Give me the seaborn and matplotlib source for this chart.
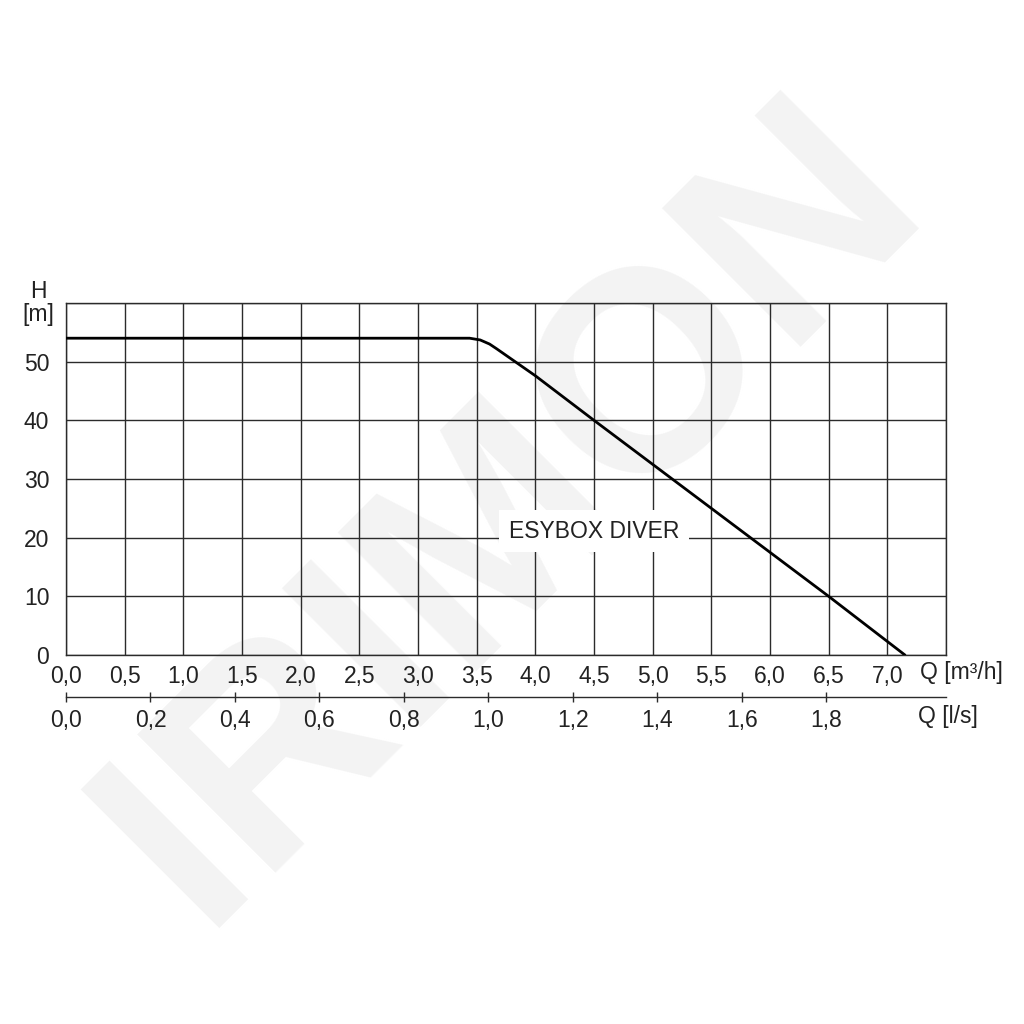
import matplotlib

matplotlib.use("Agg")
import matplotlib.pyplot as plt
import numpy as np
import pandas as pd
import seaborn as sns

# Pump curve (Q in m3/h, H in m)
flow_m3h = [0.0, 3.44, 3.53, 3.61, 3.67, 4.0, 4.5, 6.5, 7.15]
head_m = [54.0, 54.0, 53.7, 53.0, 52.2, 47.6, 40.0, 10.0, 0.0]

q_ticks_m3h = [0.0, 0.5, 1.0, 1.5, 2.0, 2.5, 3.0, 3.5, 4.0, 4.5, 5.0, 5.5, 6.0, 6.5, 7.0]
q_ticks_ls = [0.0, 0.2, 0.4, 0.6, 0.8, 1.0, 1.2, 1.4, 1.6, 1.8]
h_ticks = [0, 10, 20, 30, 40, 50]

curve_name = "ESYBOX DIVER"
watermark = "IRIMON"


def comma(v):
    return f"{v:.1f}".replace(".", ",")


def main():
    sns.set_theme(style="white")
    plt.rcParams["font.family"] = ["Liberation Sans", "DejaVu Sans"]
    fs = 16.5
    grid_col = "#2b2b2b"
    txt_col = "#222222"

    fig = plt.figure(figsize=(10.24, 10.24), dpi=100)
    fig.patch.set_facecolor("white")

    # Watermark behind everything
    fig.text(0.5, 0.5, watermark, fontsize=205, fontweight="bold", color="#f3f3f3",
             rotation=45, ha="center", va="center", zorder=-5)

    ax = fig.add_axes([66 / 1024, 1 - 655 / 1024, 880 / 1024, 352 / 1024])
    ax.set_zorder(2)
    ax.set_facecolor("none")

    df = pd.DataFrame({"Q": flow_m3h, "H": head_m})
    sns.lineplot(data=df, x="Q", y="H", sort=False, color="black", linewidth=2.0, ax=ax,
                 zorder=3)

    ax.set_xlim(0, 7.5)
    ax.set_ylim(0, 60)
    ax.set_xticks(q_ticks_m3h + [7.5])
    ax.set_xticklabels([comma(v) for v in q_ticks_m3h] + [""])
    ax.set_yticks(h_ticks + [60])
    ax.set_yticklabels([str(v) for v in h_ticks] + [""])
    ax.tick_params(axis="x", length=0, pad=7, labelsize=fs, colors=txt_col)
    ax.tick_params(axis="y", length=0, pad=12, labelsize=fs, colors=txt_col)
    ax.grid(True, color=grid_col, linewidth=1.0)
    for s in ax.spines.values():
        s.set_visible(True)
        s.set_color(grid_col)
        s.set_linewidth(1.0)
    ax.set_xlabel("")
    ax.set_ylabel("")

    ax.text(4.5, 21.1, curve_name, fontsize=fs, color=txt_col, ha="center", va="center",
            bbox=dict(facecolor="white", edgecolor="none", pad=7), zorder=4)

    # Secondary flow scale in l/s
    ax2 = fig.add_axes([66 / 1024, 1 - 697 / 1024, 880 / 1024, 0.001])
    ax2.set_zorder(2)
    ax2.set_facecolor("none")
    ax2.set_xlim(0, 7.5 / 3.6)
    ax2.set_yticks([])
    ax2.set_xticks(q_ticks_ls)
    ax2.set_xticklabels([comma(v) for v in q_ticks_ls])
    ax2.tick_params(axis="x", direction="inout", length=7, width=1, color=grid_col,
                    pad=5, labelsize=fs, labelcolor=txt_col, bottom=True)
    for k in ["top", "left", "right"]:
        ax2.spines[k].set_visible(False)
    ax2.spines["bottom"].set_color(grid_col)
    ax2.spines["bottom"].set_linewidth(1.0)

    # Axis titles
    fig.text(38 / 1024, 1 - 292 / 1024, "H", fontsize=fs, ha="center", va="center",
             color=txt_col)
    fig.text(38 / 1024, 1 - 314 / 1024, "[m]", fontsize=fs, ha="center", va="center",
             color=txt_col)
    fig.text(920 / 1024, 1 - 673 / 1024, "Q [m³/h]", fontsize=fs, ha="left",
             va="center", color=txt_col)
    fig.text(918 / 1024, 1 - 716 / 1024, "Q [l/s]", fontsize=fs, ha="left", va="center",
             color=txt_col)

    fig.savefig("out.png", dpi=100, facecolor="white")
    plt.close(fig)


if __name__ == "__main__":
    main()
